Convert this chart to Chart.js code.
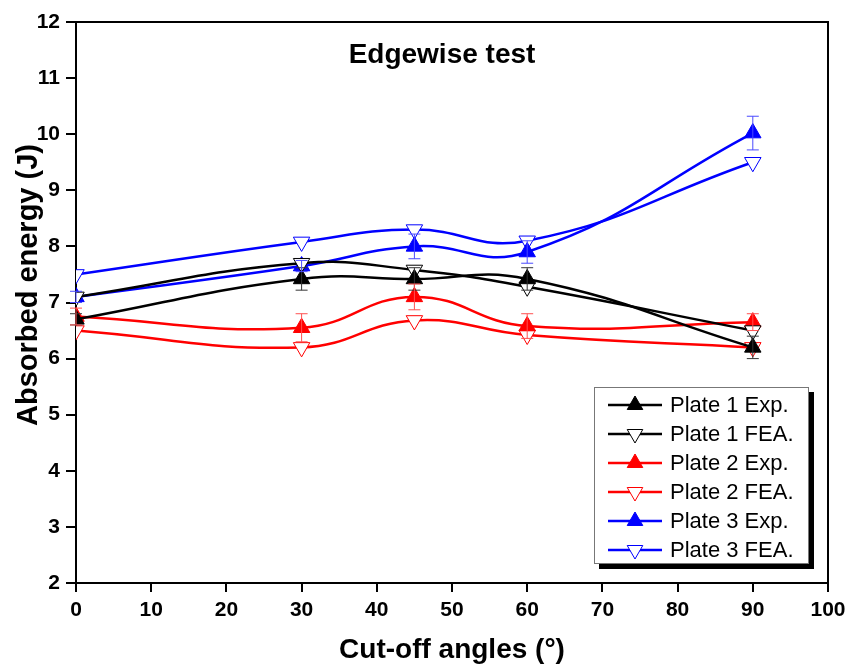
<!DOCTYPE html>
<html>
<head>
<meta charset="utf-8">
<script src="https://cdn.jsdelivr.net/npm/chart.js@4.4.1/dist/chart.umd.min.js"></script>
<style>
  html,body{margin:0;padding:0;background:#fff;}
  #wrap{width:852px;height:668px;position:relative;}
</style>
</head>
<body>
<div id="wrap"><canvas id="c" width="852" height="668"></canvas></div>
<script>
// Data
const angles = [0, 30, 45, 60, 90];
const plate1Exp = [6.7, 7.42, 7.42, 7.42, 6.2];
const plate1FEA = [7.1, 7.7, 7.58, 7.28, 6.5];
const plate2Exp = [6.75, 6.55, 7.1, 6.58, 6.65];
const plate2FEA = [6.5, 6.2, 6.68, 6.42, 6.2];
const plate3Exp = [7.1, 7.65, 8.0, 7.9, 10.02];
const plate3FEA = [7.5, 8.08, 8.3, 8.1, 9.5];
// error bars (experimental only)
const plate1Err = [0.1, 0.2, 0.2, 0.2, 0.2];
const plate2Err = [0.15, 0.25, 0.23, 0.22, 0.15];
const plate3Err = [0.1, 0.1, 0.22, 0.2, 0.3];

const xTicks = [0,10,20,30,40,50,60,70,80,90,100];
const yTicks = [2,3,4,5,6,7,8,9,10,11,12];

const seriesNames = ['Plate 1 Exp.','Plate 1 FEA.','Plate 2 Exp.','Plate 2 FEA.','Plate 3 Exp.','Plate 3 FEA.'];
const colors = ['#000000','#000000','#ff0000','#ff0000','#0000ff','#0000ff'];
const errColors = ['#333333','#333333','#ff5050','#ff5050','#4a4aff','#4a4aff'];

const FONT = "'Liberation Sans', Arial, sans-serif";
const pts = (ys)=> ys.map((y,i)=>({x:angles[i], y}));

function ds(i, ys, err){
  const filled = i%2===0;
  return {
    label: seriesNames[i],
    data: pts(ys),
    err: err||null,
    borderColor: colors[i],
    backgroundColor: colors[i],
    borderWidth: 2.5,
    tension: 0.45,
    pointStyle: 'triangle',
    pointRotation: filled ? 0 : 180,
    pointRadius: 9.5,
    pointBorderWidth: 1,
    pointBackgroundColor: filled ? colors[i] : '#ffffff',
    pointBorderColor: colors[i],
    errColor: errColors[i]
  };
}

// error bars, frame, titles, legend
const extras = {
  id:'extras',
  afterDatasetsDraw(chart){
    const {ctx, scales:{x,y}} = chart;
    ctx.save();
    chart.data.datasets.forEach(d=>{
      if(!d.err) return;
      ctx.strokeStyle = d.errColor; ctx.lineWidth = 1;
      d.data.forEach((p,i)=>{
        const px = x.getPixelForValue(p.x);
        const yt = y.getPixelForValue(p.y + d.err[i]);
        const yb = y.getPixelForValue(p.y - d.err[i]);
        ctx.beginPath();
        ctx.moveTo(px, yt); ctx.lineTo(px, yb);
        ctx.moveTo(px-6, yt); ctx.lineTo(px+6, yt);
        ctx.moveTo(px-6, yb); ctx.lineTo(px+6, yb);
        ctx.stroke();
      });
    });
    ctx.restore();
  },
  afterDraw(chart){
    const {ctx, chartArea:a} = chart;
    ctx.save();
    // top + right frame
    ctx.strokeStyle = '#000'; ctx.lineWidth = 2;
    ctx.beginPath();
    ctx.moveTo(a.left, a.top); ctx.lineTo(a.right, a.top); ctx.lineTo(a.right, a.bottom);
    ctx.stroke();
    // title inside plot
    ctx.fillStyle = '#000';
    ctx.font = "bold 28px " + FONT;
    ctx.textAlign = 'center'; ctx.textBaseline = 'alphabetic';
    ctx.fillText('Edgewise test', 442, 63);
    // y axis title
    ctx.save();
    ctx.translate(29, 285);
    ctx.rotate(-Math.PI/2);
    ctx.font = "bold 29px " + FONT;
    ctx.textBaseline = 'middle';
    ctx.fillText('Absorbed energy (J)', 0, 0);
    ctx.restore();
    // legend box with shadow
    const bx = 594, by = 387, bw = 214, bh = 176;
    ctx.fillStyle = '#000';
    ctx.fillRect(bx+5, by+5, bw+1, bh+1);
    ctx.fillStyle = '#fff';
    ctx.fillRect(bx, by, bw, bh);
    ctx.strokeStyle = '#777'; ctx.lineWidth = 1;
    ctx.strokeRect(bx+0.5, by+0.5, bw, bh);
    chart.data.datasets.forEach((d,i)=>{
      const ry = 405 + i*29;
      ctx.strokeStyle = d.borderColor; ctx.lineWidth = 2.5;
      ctx.beginPath(); ctx.moveTo(608, ry); ctx.lineTo(662, ry); ctx.stroke();
      ctx.fillStyle = d.pointBackgroundColor; ctx.lineWidth = 1;
      Chart.helpers.drawPoint(ctx, {pointStyle:'triangle', radius:9, rotation:d.pointRotation, borderWidth:1}, 635, ry);
      ctx.fillStyle = '#000';
      ctx.font = "22px " + FONT;
      ctx.textAlign = 'left'; ctx.textBaseline = 'middle';
      ctx.fillText(d.label, 670, ry+1);
    });
    ctx.restore();
  }
};

new Chart(document.getElementById('c'), {
  type:'line',
  data:{ datasets:[
    ds(0, plate1Exp, plate1Err),
    ds(1, plate1FEA),
    ds(2, plate2Exp, plate2Err),
    ds(3, plate2FEA),
    ds(4, plate3Exp, plate3Err),
    ds(5, plate3FEA)
  ]},
  options:{
    responsive:false, animation:false,
    layout:{ padding:{ top:22, right:24, left:0, bottom:0 } },
    plugins:{ legend:{display:false}, tooltip:{enabled:false}, title:{display:false} },
    scales:{
      x:{
        type:'linear', min:0, max:100,
        afterFit:(s)=>{ s.height = 85; },
        afterBuildTicks:(s)=>{ s.ticks = xTicks.map(v=>({value:v})); },
        ticks:{ color:'#000', font:{family:FONT, weight:'bold', size:21}, padding:6, maxRotation:0 },
        grid:{ drawOnChartArea:false, drawTicks:true, tickLength:9, color:'#000', lineWidth:2 },
        border:{ color:'#000', width:2 },
        title:{ display:true, text:'Cut-off angles (°)', color:'#000', font:{family:FONT, weight:'bold', size:28}, padding:{top:0, bottom:1} }
      },
      y:{
        type:'linear', min:2, max:12,
        afterFit:(s)=>{ s.width = 76; },
        afterBuildTicks:(s)=>{ s.ticks = yTicks.map(v=>({value:v})); },
        ticks:{ color:'#000', font:{family:FONT, weight:'bold', size:21}, padding:6 },
        grid:{ drawOnChartArea:false, drawTicks:true, tickLength:10, color:'#000', lineWidth:2 },
        border:{ color:'#000', width:2 },
        title:{ display:false }
      }
    }
  },
  plugins:[extras]
});
</script>
</body>
</html>
